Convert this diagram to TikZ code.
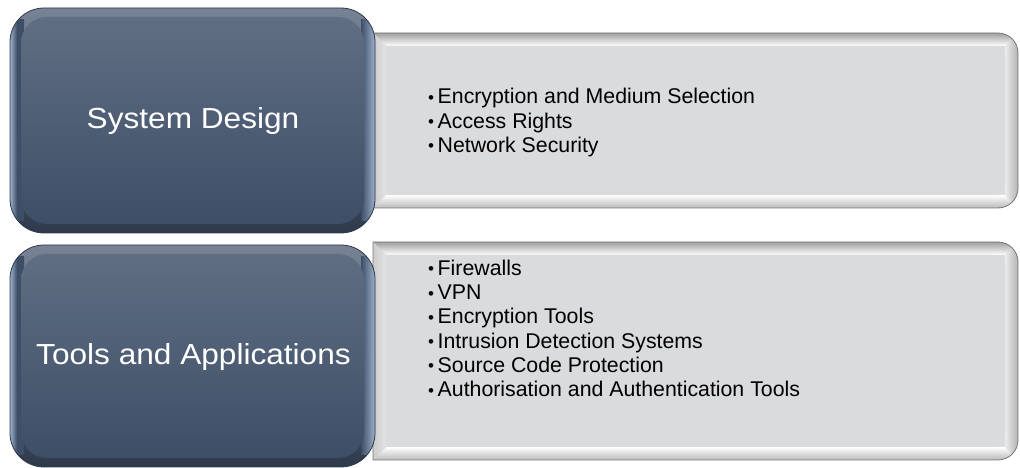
\documentclass[tikz,border=0pt]{standalone}
\usepackage{graphicx}
\usepackage{fontspec}
\setmainfont{Liberation Sans}
\newfontfamily\titlefont[FakeStretch=1.09]{Liberation Sans}
\usetikzlibrary{calc}

\definecolor{slateTop}{HTML}{5F6E82}
\definecolor{slateBot}{HTML}{3E4E67}
\definecolor{slateEdge}{HTML}{2E3A4B}
\definecolor{slateLight}{HTML}{9DB0CB}
\definecolor{greyFace}{HTML}{DADBDD}
\definecolor{greyEdge}{HTML}{777777}

% small bullet in a fixed-width slot
\newcommand{\bul}{\makebox[9.5pt][l]{\raisebox{0.6pt}{\scalebox{0.8}{•}}}}

\tikzset{
  titletext/.style={text=white, font=\titlefont\fontsize{29}{34}\selectfont, inner sep=0pt},
  listtext/.style={text=black, align=left, inner sep=0pt,
                   font=\fontsize{21.3}{24.3}\selectfont},
}

% bevelled slate tile: lower-left corner, upper-right corner
\newcommand{\slatetile}[4]{%
  \begin{scope}
    \clip[rounded corners=34pt] (#1,#2) rectangle (#3,#4);
    \shade[top color=slateTop!85!white, bottom color=slateEdge] (#1,#2) rectangle (#3,#4);
    \shade[left color=slateLight, right color=slateBot, middle color=slateBot]
      ($(#1,#2)+(0,12)$) rectangle ($(#1,#4)+(14,-12)$);
    \shade[left color=slateBot, right color=slateLight]
      ($(#3,#2)+(-14,12)$) rectangle ($(#3,#4)+(0,-12)$);
    \shade[rounded corners=26pt, top color=slateTop, bottom color=slateBot]
      ($(#1,#2)+(11,9)$) rectangle ($(#3,#4)+(-11,-9)$);
  \end{scope}
  \draw[slateEdge, line width=0.8pt, rounded corners=34pt] (#1,#2) rectangle (#3,#4);
}

% bevelled grey panel, square on the left, rounded on the right
\newcommand{\greypanel}[4]{%
  \begin{scope}
    \clip (#1,#2) -- (#1,#4) -- ($(#3,#4)+(-20,0)$)
      arc[start angle=90, end angle=0, radius=20] -- ($(#3,#2)+(0,20)$)
      arc[start angle=0, end angle=-90, radius=20] -- cycle;
    \fill[greyFace] (#1,#2) rectangle (#3,#4);
    % top bevel
    \shade[top color=gray!75, bottom color=white]
      (#1,#4) -- (#3,#4) -- ($(#3,#4)+(-13,-13)$) -- ($(#1,#4)+(13,-13)$) -- cycle;
    % bottom bevel
    \shade[top color=white, bottom color=gray!55]
      (#1,#2) -- (#3,#2) -- ($(#3,#2)+(-13,13)$) -- ($(#1,#2)+(13,13)$) -- cycle;
    % left bevel
    \shade[left color=gray!40, right color=gray!22]
      (#1,#2) -- ($(#1,#2)+(13,13)$) -- ($(#1,#4)+(13,-13)$) -- (#1,#4) -- cycle;
    % right bevel
    \shade[left color=gray!15, right color=gray!60]
      (#3,#2) -- ($(#3,#2)+(-13,13)$) -- ($(#3,#4)+(-13,-13)$) -- (#3,#4) -- cycle;
    % face
    \fill[greyFace] ($(#1,#2)+(13,13)$) -- ($(#1,#4)+(13,-13)$) -- ($(#3,#4)+(-25,-13)$)
      arc[start angle=90, end angle=0, radius=12] -- ($(#3,#2)+(-13,25)$)
      arc[start angle=0, end angle=-90, radius=12] -- cycle;
  \end{scope}
  \draw[greyEdge, line width=0.8pt] (#1,#2) -- (#1,#4) -- ($(#3,#4)+(-20,0)$)
      arc[start angle=90, end angle=0, radius=20] -- ($(#3,#2)+(0,20)$)
      arc[start angle=0, end angle=-90, radius=20] -- cycle;
}

\begin{document}
\begin{tikzpicture}[x=1pt, y=1pt]
  \useasboundingbox (0,0) rectangle (1020,468);

  % panels first, tiles overlap their left edges
  \greypanel{373}{260}{1018}{435}
  \greypanel{373}{8}{1018}{226}
  \slatetile{10}{235}{375}{460}
  \slatetile{10}{1}{375}{223}

  \node[titletext] (design) at (193,346.5) {System Design};
  \node[titletext] (tools) at (193.5,111) {Tools and Applications};

  \node[listtext, anchor=west] (designlist) at (428,345.5)
    {\bul Encryption and Medium Selection\\
     \bul Access Rights\\
     \bul Network Security};
  \node[listtext, anchor=west] (toollist) at (428,139.5)
    {\bul Firewalls\\
     \bul VPN\\
     \bul Encryption Tools\\
     \bul Intrusion Detection Systems\\
     \bul Source Code Protection\\
     \bul Authorisation and Authentication Tools};
\end{tikzpicture}
\end{document}
